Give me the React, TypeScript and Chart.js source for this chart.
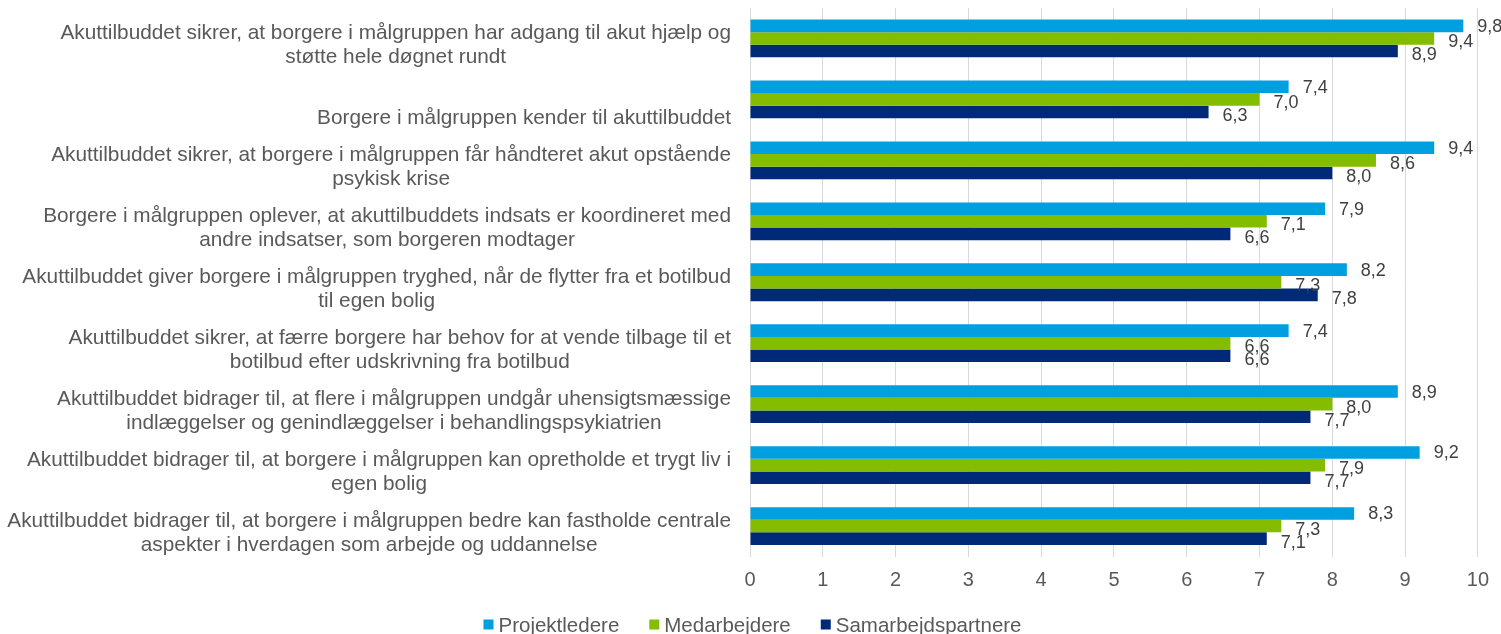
import React, { useEffect, useRef } from "react";
import { Chart, registerables } from "chart.js";

Chart.register(...registerables);

const categories: string[][] = [
  ["Akuttilbuddet sikrer, at borgere i målgruppen har adgang til akut hjælp og", "støtte hele døgnet rundt"],
  ["", "Borgere i målgruppen kender til akuttilbuddet"],
  ["Akuttilbuddet sikrer, at borgere i målgruppen får håndteret akut opstående", "psykisk krise"],
  ["Borgere i målgruppen oplever, at akuttilbuddets indsats er koordineret med", "andre indsatser, som borgeren modtager"],
  ["Akuttilbuddet giver borgere i målgruppen tryghed, når de flytter fra et botilbud", "til egen bolig"],
  ["Akuttilbuddet sikrer, at færre borgere har behov for at vende tilbage til et", "botilbud efter udskrivning fra botilbud"],
  ["Akuttilbuddet bidrager til, at flere i målgruppen undgår uhensigtsmæssige", "indlæggelser og genindlæggelser i behandlingspsykiatrien"],
  ["Akuttilbuddet bidrager til, at borgere i målgruppen kan opretholde et trygt liv i", "egen bolig"],
  ["Akuttilbuddet bidrager til, at borgere i målgruppen bedre kan fastholde centrale", "aspekter i hverdagen som arbejde og uddannelse"],
];

const seriesNames = ["Projektledere", "Medarbejdere", "Samarbejdspartnere"];
const projektledere = [9.8, 7.4, 9.4, 7.9, 8.2, 7.4, 8.9, 9.2, 8.3];
const medarbejdere = [9.4, 7.0, 8.6, 7.1, 7.3, 6.6, 8.0, 7.9, 7.3];
const samarbejdspartnere = [8.9, 6.3, 8.0, 6.6, 7.8, 6.6, 7.7, 7.7, 7.1];
const xTickMin = 0;
const xTickMax = 10;
const xTickStep = 1;

const COLORS = ["#009FDF", "#84BD00", "#002A78"];
const FONT = '"Liberation Sans", Arial, sans-serif';
const TEXT_GRAY = "#595959";
const LABEL_DARK = "#404040";
const LABEL_Y_OFFSETS = [1, 4, 4];

const customDraw = {
  id: "customDraw",
  afterDraw(chart: any) {
    const ctx = chart.ctx as CanvasRenderingContext2D;
    const yScale = chart.scales.y;
    const area = chart.chartArea;

    // category labels
    ctx.save();
    ctx.font = `20.8px ${FONT}`;
    ctx.fillStyle = TEXT_GRAY;
    ctx.textAlign = "center";
    ctx.textBaseline = "middle";
    const rightEdge = area.left - 19;
    categories.forEach((lines, i) => {
      const cy = yScale.getPixelForValue(i) + 7;
      const n = lines.length;
      const blockW = Math.max(...lines.map((l) => ctx.measureText(l).width));
      const cx = rightEdge - blockW / 2;
      lines.forEach((line, j) => {
        const y = cy - ((n - 1) * 24) / 2 + j * 24;
        ctx.fillText(line, cx, y);
      });
    });
    ctx.restore();

    // data labels
    ctx.save();
    ctx.font = `18px ${FONT}`;
    ctx.fillStyle = LABEL_DARK;
    ctx.textAlign = "left";
    ctx.textBaseline = "middle";
    chart.data.datasets.forEach((ds: any, d: number) => {
      const meta = chart.getDatasetMeta(d);
      meta.data.forEach((el: any, i: number) => {
        const v = ds.data[i] as number;
        const txt = v.toFixed(1).replace(".", ",");
        ctx.fillText(txt, el.x + 14, el.y + LABEL_Y_OFFSETS[d]);
      });
    });
    ctx.restore();

    // legend
    ctx.save();
    ctx.font = `20.5px ${FONT}`;
    ctx.textBaseline = "alphabetic";
    ctx.textAlign = "left";
    const box = 10;
    const gapBoxText = 5;
    const gapItems = 30;
    const widths = seriesNames.map((s) => ctx.measureText(s).width);
    const total =
      widths.reduce((a, w) => a + box + gapBoxText + w, 0) + gapItems * (seriesNames.length - 1);
    let x = chart.width / 2 - total / 2 + 2;
    const baseline = 631.5;
    seriesNames.forEach((s, i) => {
      ctx.fillStyle = COLORS[i];
      ctx.fillRect(x, 619.5, box, box);
      x += box + gapBoxText;
      ctx.fillStyle = TEXT_GRAY;
      ctx.fillText(s, x, baseline);
      x += widths[i] + gapItems;
    });
    ctx.restore();
  },
};

export default function App() {
  const canvasRef = useRef<HTMLCanvasElement | null>(null);

  useEffect(() => {
    const canvas = canvasRef.current;
    if (!canvas) return;
    const chart = new Chart(canvas, {
      type: "bar",
      data: {
        labels: categories.map((c) => c.filter((l) => l).join(" ")),
        datasets: [
          { label: seriesNames[0], data: projektledere, backgroundColor: COLORS[0] },
          { label: seriesNames[1], data: medarbejdere, backgroundColor: COLORS[1] },
          { label: seriesNames[2], data: samarbejdspartnere, backgroundColor: COLORS[2] },
        ],
      },
      options: {
        indexAxis: "y",
        animation: false,
        responsive: false,
        maintainAspectRatio: false,
        datasets: { bar: { categoryPercentage: 0.62, barPercentage: 1 } },
        layout: { padding: { top: 8, right: 22, left: 0, bottom: 0 } },
        plugins: { legend: { display: false }, tooltip: { enabled: false } },
        scales: {
          x: {
            min: xTickMin,
            max: xTickMax,
            ticks: {
              stepSize: xTickStep,
              color: TEXT_GRAY,
              font: { family: FONT, size: 20 },
              padding: 12,
            },
            grid: { color: "#D9D9D9", drawTicks: false, lineWidth: 1 },
            border: { display: false },
            afterFit: (s: any) => {
              s.height = 77.5;
            },
          },
          y: {
            ticks: { display: false },
            grid: { display: false },
            border: { display: false },
            afterFit: (s: any) => {
              s.width = 750;
            },
          },
        },
      },
      plugins: [customDraw],
    });
    return () => chart.destroy();
  }, []);

  return (
    <div style={{ position: "fixed", left: 0, top: 0, width: 1501, height: 634, background: "#fff" }}>
      <canvas ref={canvasRef} width={1501} height={634} style={{ display: "block", width: 1501, height: 634 }} />
    </div>
  );
}
